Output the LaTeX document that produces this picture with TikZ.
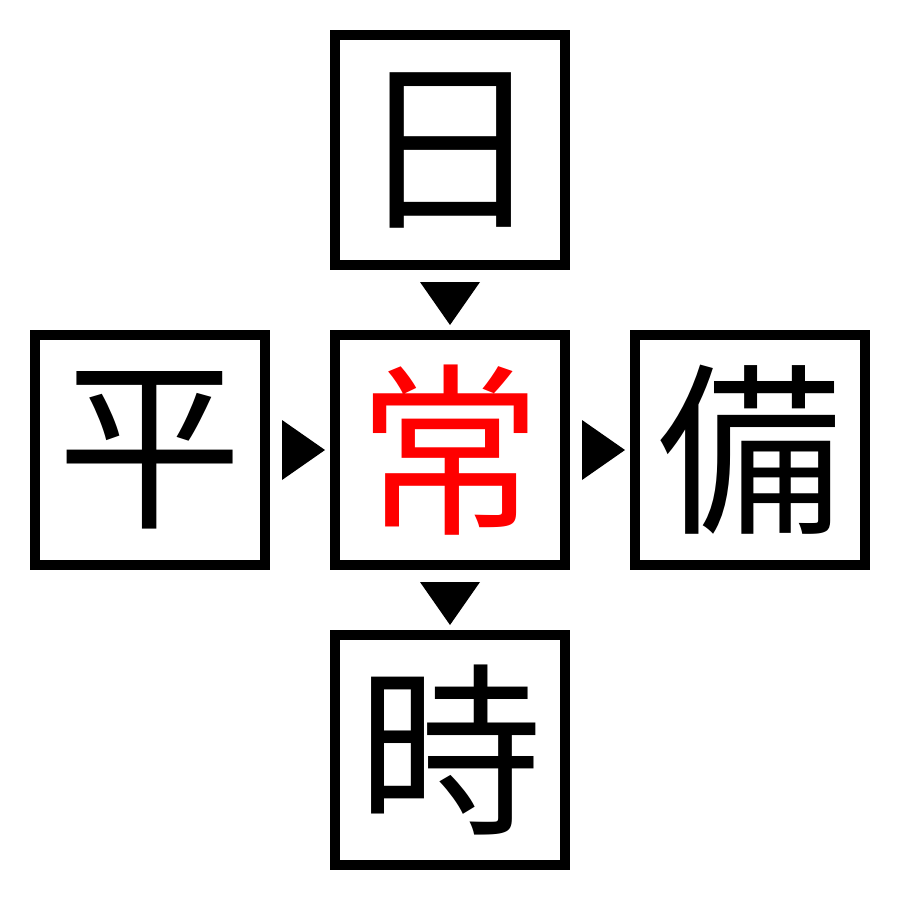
\documentclass[tikz,border=0pt]{standalone}
\usepackage{fontspec}
\newfontfamily\jp{Noto Sans CJK JP}
\begin{document}
\begin{tikzpicture}[x=1pt,y=-1pt,
  kbox/.style={draw=black,line width=10pt,minimum size=230pt,inner sep=0pt,font=\jp\fontsize{185}{185}\selectfont},
  tri/.style={fill=black,draw=none}]
\useasboundingbox (0,0) rectangle (900,900);
\node[kbox] (top) at (450,150) {日};
\node[kbox] (left) at (150,450) {平};
\node[kbox,text=red] (mid) at (450,450) {常};
\node[kbox] (right) at (750,450) {備};
\node[kbox] (bot) at (450,750) {時};
\fill[tri] (282,420) -- (282,480) -- (325,450) -- cycle;
\fill[tri] (582,420) -- (582,480) -- (625,450) -- cycle;
\fill[tri] (420,282) -- (480,282) -- (450,325) -- cycle;
\fill[tri] (420,582) -- (480,582) -- (450,625) -- cycle;
\end{tikzpicture}
\end{document}
